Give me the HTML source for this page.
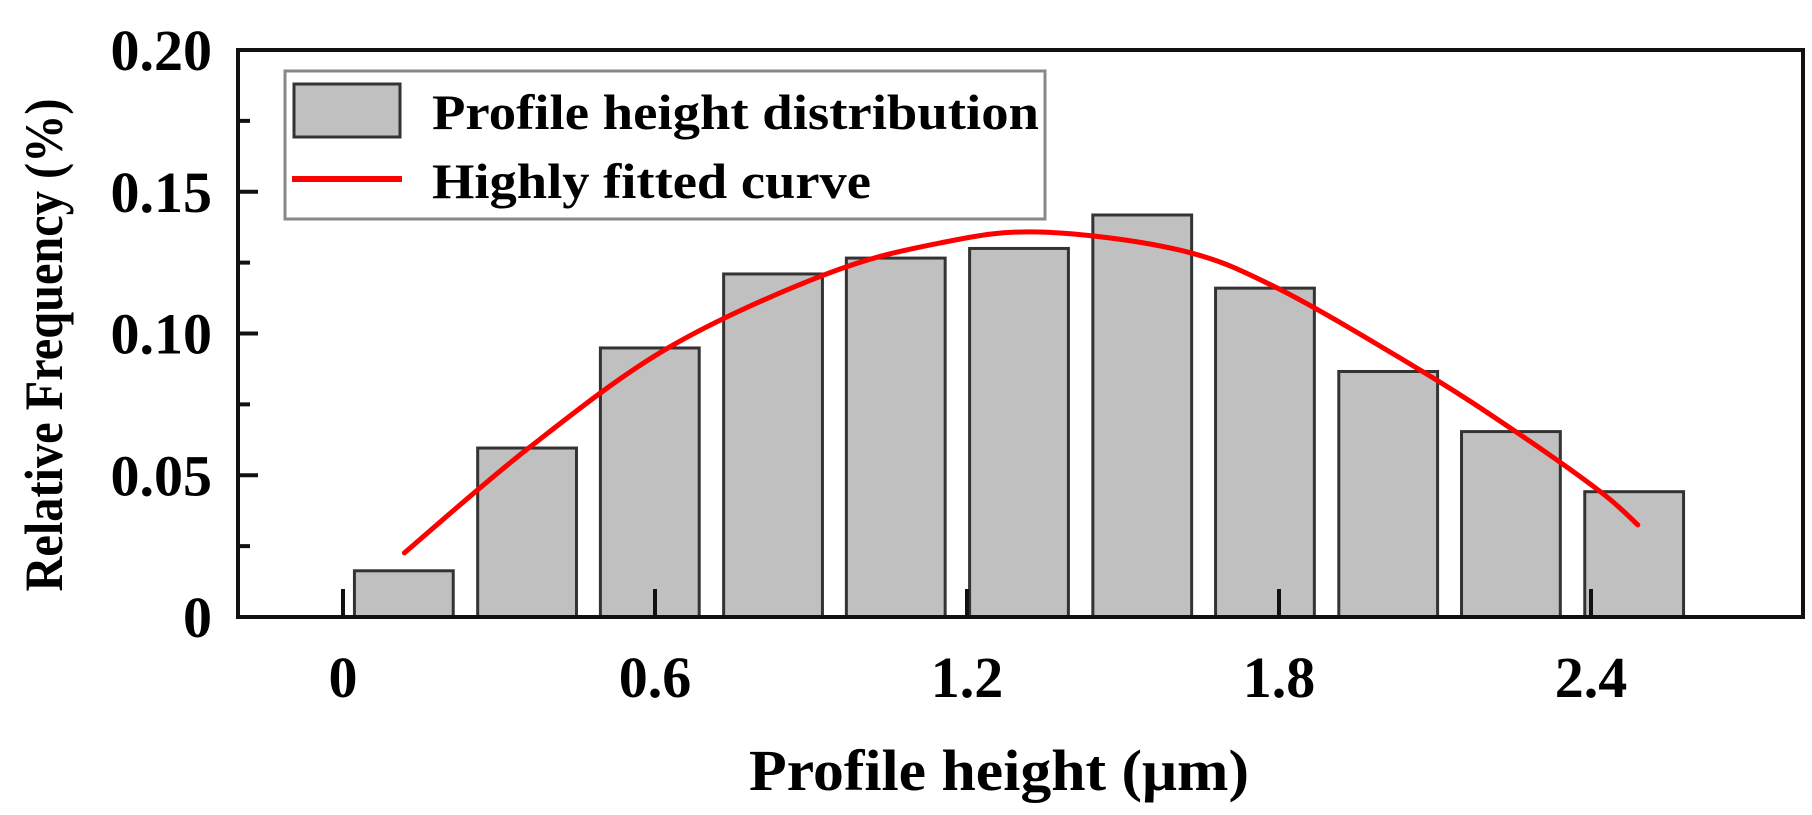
<!DOCTYPE html>
<html><head><meta charset="utf-8"><style>
html,body{margin:0;padding:0;background:#fff;}
svg text{font-family:"Liberation Serif",serif;font-weight:bold;fill:#000;}
</style></head><body>
<svg id="chart" width="1812" height="810" viewBox="0 0 1812 810" xmlns="http://www.w3.org/2000/svg">
<g id="bars"></g>
<path id="curve" fill="none" stroke="#ff0000" stroke-width="5" stroke-linecap="round"/>
<rect x="238" y="50" width="1565" height="567" fill="none" stroke="#111" stroke-width="4"/>
<g id="ticks"></g>
<g>
<rect x="285" y="71" width="760" height="148" fill="#fff" stroke="#888" stroke-width="3"/>
<rect x="294" y="84" width="106" height="53" fill="#c0c0c0" stroke="#333" stroke-width="3"/>
<line x1="292" y1="179" x2="402" y2="179" stroke="#ff0000" stroke-width="6"/>
<text x="432" y="129" font-size="50" textLength="607" lengthAdjust="spacingAndGlyphs">Profile height distribution</text>
<text x="432" y="198" font-size="50" textLength="439" lengthAdjust="spacingAndGlyphs">Highly fitted curve</text>
</g>
<text x="999" y="790" font-size="58" text-anchor="middle" textLength="500" lengthAdjust="spacingAndGlyphs">Profile height (μm)</text>
<text transform="translate(62,345) rotate(-90)" font-size="54" text-anchor="middle" textLength="493" lengthAdjust="spacingAndGlyphs">Relative Frequency (%)</text>
</svg>
<script>
const binCenters = [0.117,0.354,0.590,0.827,1.063,1.300,1.537,1.773,2.010,2.246,2.483];
const binValues = [0.0163,0.0596,0.0949,0.121,0.1266,0.130,0.1418,0.116,0.0866,0.0654,0.0442];
const curveX = [0.118,0.357,0.625,0.93,1.15,1.34,1.607,1.797,2.076,2.255,2.418,2.49];
const curveY = [0.0226,0.0596,0.0949,0.121,0.132,0.1358,0.1295,0.116,0.0866,0.0654,0.0442,0.0325];
const xTicks = [0,0.6,1.2,1.8,2.4];
const xTickLabels = ["0","0.6","1.2","1.8","2.4"];
const yTicks = [0,0.05,0.10,0.15,0.20];
const yTickLabels = ["0","0.05","0.10","0.15","0.20"];
const yMinor = [0.025,0.075,0.125,0.175];
const binWidth = 0.19;

const NS = "http://www.w3.org/2000/svg";
const sx = v => 343 + v * 520;
const sy = v => 617 - v * 2835;
function mk(tag, attrs, parent){const e=document.createElementNS(NS,tag);for(const k in attrs)e.setAttribute(k,attrs[k]);parent.appendChild(e);return e;}

const gb = document.getElementById('bars');
binCenters.forEach((c,i)=>{
  const r = mk('rect',{x:sx(c-binWidth/2),y:sy(binValues[i]),width:binWidth*520,height:sy(0)-sy(binValues[i]),fill:'#c0c0c0',stroke:'#333','stroke-width':3},gb);
  
  
});

const pts = curveX.map((x,i)=>[sx(x),sy(curveY[i])]);
let d = 'M'+pts[0][0]+','+pts[0][1];
for(let i=0;i<pts.length-1;i++){
  const p0=pts[Math.max(0,i-1)],p1=pts[i],p2=pts[i+1],p3=pts[Math.min(pts.length-1,i+2)];
  const c1=[p1[0]+(p2[0]-p0[0])/6,p1[1]+(p2[1]-p0[1])/6];
  const c2=[p2[0]-(p3[0]-p1[0])/6,p2[1]-(p3[1]-p1[1])/6];
  d+=' C'+c1[0]+','+c1[1]+' '+c2[0]+','+c2[1]+' '+p2[0]+','+p2[1];
}
document.getElementById('curve').setAttribute('d',d);

const gt = document.getElementById('ticks');
xTicks.forEach((t,i)=>{
  const l = mk('line',{x1:sx(t),x2:sx(t),y1:617,y2:589,stroke:'#111','stroke-width':4},gt);
  
  
  const tx = mk('text',{x:sx(t),y:697,'font-size':58,'text-anchor':'middle'},gt);
  tx.textContent = xTickLabels[i];
  
  
});
yTicks.forEach((t,i)=>{
  const l = mk('line',{x1:238,x2:258,y1:sy(t),y2:sy(t),stroke:'#111','stroke-width':4},gt);
  
  
  const tx = mk('text',{x:212,y:sy(t)+20,'font-size':58,'text-anchor':'end'},gt);
  tx.textContent = yTickLabels[i];
  
  
});
yMinor.forEach(t=>{
  const l = mk('line',{x1:238,x2:250,y1:sy(t),y2:sy(t),stroke:'#111','stroke-width':4},gt);
  
  
});
</script>
</body></html>
